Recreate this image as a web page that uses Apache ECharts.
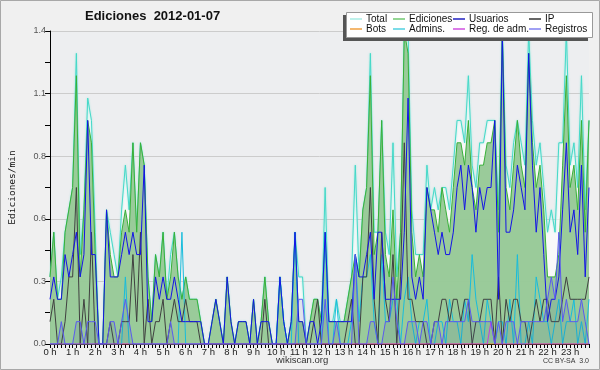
<!DOCTYPE html>
<html><head><meta charset="utf-8">
<script src="https://cdn.jsdelivr.net/npm/echarts@6/dist/echarts.min.js"></script>
<style>html,body{margin:0;padding:0;background:#f0f0f0}#c{width:600px;height:370px}</style>
</head><body><div id="c"></div>
<script>
const hourLabels = ["0 h","1 h","2 h","3 h","4 h","5 h","6 h","7 h","8 h","9 h","10 h","11 h","12 h","13 h","14 h","15 h","16 h","17 h","18 h","19 h","20 h","21 h","22 h","23 h"];
const ediciones = [
0.3,0.5,0.2,0.2,0.5,0.6, 0.7,1.2,0.3,0.6,1.0,0.9, 0.4,0,0,0.6,0.4,0.3, 0.3,0.5,0.6,0.5,0.9,0.5,
0.9,0.8,0.3,0.1,0.4,0.3, 0.5,0.2,0.3,0.5,0.3,0.2, 0.3,0.2,0.2,0.2,0.1,0, 0,0.1,0.2,0.1,0,0.3,
0.1,0,0.1,0.1,0.1,0, 0.2,0,0.1,0.3,0.1,0, 0,0.3,0.1,0,0.1,0.5, 0.1,0.1,0,0.1,0.2,0.2,
0.1,0.5,0.1,0.1,0.1,0.1, 0.1,0.2,0.3,0.4,0.3,0.6, 0.7,1.2,0.4,0.5,1.0,0.4, 0.3,0.6,0.2,0.5,1.4,1.3,
0.5,0.3,0.4,0.3,0.7,0.6, 0.6,0.5,0.7,0.6,0.5,0.7, 0.9,0.9,0.8,1.0,0.7,0.6, 0.8,0.8,0.9,0.9,1.0,0.5,
1.4,0.7,0.6,0.8,1.0,0.8, 0.7,1.3,0.9,0.7,0.8,0.6, 0.3,0.3,0.3,0.4,0.8,1.2, 0.7,0.8,0.6,1.0,0.5,1.0];
const usuarios = [
0.2,0.3,0.2,0.2,0.4,0.3, 0.4,0.5,0.3,0.4,1.0,0.4, 0.4,0,0,0.6,0.3,0.3, 0.3,0.4,0.5,0.4,0.5,0.4,
0.4,0.8,0.1,0.1,0.3,0.2, 0.3,0.2,0.2,0.3,0.2,0.1, 0.1,0.1,0.1,0.1,0.1,0, 0,0.1,0.2,0.1,0,0.3,
0.1,0,0.1,0.1,0.1,0, 0.2,0,0.1,0.1,0.1,0, 0,0.3,0.1,0,0.1,0.5, 0.1,0.1,0,0.1,0.1,0,
0.1,0.5,0.1,0.1,0.1,0.1, 0.1,0.1,0.1,0.4,0.3,0.3, 0.4,0.5,0.2,0.5,0.5,0.2, 0.2,0.2,0.2,0.2,0.5,1.1,
0.3,0.2,0.3,0.2,0.7,0.6, 0.5,0.4,0.5,0.4,0.4,0.5, 0.7,0.8,0.6,0.8,0.7,0.5, 0.7,0.6,0.7,0.7,1.0,0.2,
1.4,0.5,0.5,0.6,0.8,0.7, 0.6,1.3,0.8,0.5,0.7,0.4, 0.1,0.2,0.2,0.3,0.6,0.9, 0.5,0.6,0.4,0.8,0.3,0.7];
const ip = [
0.1,0.2,0,0,0.1,0.3, 0.3,0.7,0,0.2,0,0.5, 0,0,0,0,0.1,0, 0,0.1,0.1,0.1,0.4,0.1,
0.5,0,0.2,0,0.1,0.1, 0.2,0,0.1,0.2,0.1,0.1, 0.2,0.1,0.1,0.1,0,0, 0,0,0,0,0,0,
0,0,0,0,0,0, 0,0,0,0.2,0,0, 0,0,0,0,0,0, 0,0,0,0,0.1,0.2,
0,0,0,0,0,0, 0,0.1,0.2,0,0,0.3, 0.3,0.7,0.2,0,0.5,0.2, 0.1,0.4,0,0.3,0.9,0.2,
0.2,0.1,0.1,0.1,0,0, 0.1,0.1,0.2,0.2,0.1,0.2, 0.2,0.1,0.2,0.2,0,0.1, 0.1,0.2,0.2,0.2,0,0.3,
0,0.2,0.1,0.2,0.2,0.1, 0.1,0,0.1,0.2,0.1,0.2, 0.2,0.1,0.1,0.1,0.2,0.3, 0.2,0.2,0.2,0.2,0.2,0.3];
const registros = [
0,0,0,0.1,0,0, 0,0.1,0.1,0,0.1,0.1, 0.1,0,0,0,0.1,0.1, 0,0.1,0.2,0.1,0,0,
0,0,0,0,0,0, 0,0,0.1,0,0,0, 0,0,0,0,0,0, 0,0,0,0,0,0,
0,0,0,0,0,0, 0,0,0,0,0,0, 0,0,0,0,0,0, 0.2,0.2,0,0,0,0,
0,0.2,0,0,0.1,0, 0,0,0,0.4,0,0, 0,0.1,0.1,0,0,0.1, 0.1,0.3,0.1,0,0,0.1,
0.1,0.1,0,0.1,0.1,0, 0.1,0.1,0,0.1,0.1,0.1, 0.1,0.1,0.1,0.2,0.1,0.1, 0.1,0.1,0.1,0.1,0,0.1,
0,0.1,0.1,0.1,0,0.1, 0.1,0.1,0.1,0.1,0.1,0.1, 0.2,0.3,0.2,0.5,0.1,0.2, 0.1,0.1,0.1,0.2,0.1,0];
const total = [
0.3,0.5,0.2,0.3,0.5,0.6, 0.7,1.3,0.4,0.6,1.1,1.0, 0.5,0,0,0.6,0.5,0.4, 0.3,0.6,0.8,0.6,0.9,0.5,
0.9,0.8,0.3,0.1,0.4,0.3, 0.5,0.2,0.4,0.5,0.3,0.2, 0.3,0.2,0.2,0.2,0.1,0, 0,0.1,0.2,0.1,0,0.3,
0.1,0,0.1,0.1,0.1,0, 0.2,0,0.1,0.3,0.1,0, 0,0.3,0.1,0,0.1,0.5, 0.3,0.3,0,0.1,0.2,0.2,
0.1,0.7,0.1,0.1,0.2,0.1, 0.1,0.2,0.3,0.8,0.3,0.6, 0.7,1.3,0.5,0.5,1.0,0.5, 0.4,0.9,0.3,0.5,1.4,1.4,
0.6,0.4,0.4,0.4,0.8,0.6, 0.7,0.6,0.7,0.7,0.6,0.8, 1.0,1.0,0.9,1.2,0.8,0.7, 0.9,0.9,1.0,1.0,1.0,0.6,
1.4,0.8,0.7,0.9,1.0,0.9, 0.8,1.4,1.0,0.8,0.9,0.7, 0.5,0.6,0.5,0.9,0.9,1.4, 0.8,0.9,0.7,1.2,0.6,1.0];
const admins = [
0,0,0,0,0,0, 0,0,0,0,0,0, 0,0,0,0,0,0, 0,0,0.3,0,0,0,
0,0,0,0,0,0, 0,0,0,0,0,0.5, 0,0,0,0,0,0, 0,0,0,0,0,0,
0,0,0,0,0,0, 0,0,0,0,0,0, 0,0.3,0.1,0,0,0.5, 0,0,0,0,0,0,
0,0.5,0,0,0.2,0, 0,0,0.1,0.4,0.1,0.3, 0.3,0.4,0.1,0,0.4,0.1, 0.1,0.2,0.2,0,0.2,0.3,
0.1,0,0.1,0.1,0.2,0, 0,0.1,0.1,0,0.2,0.1, 0.1,0,0.2,0.1,0.4,0.2, 0.1,0,0.2,0.1,0,0.1,
0.1,0,0.2,0,0.4,0, 0,0.1,0,0.3,0.2,0.1, 0.1,0,0.1,0.2,0,0.1, 0.1,0.2,0,0.1,0,0.2];
const regAdm = [
0,0,0,0,0,0, 0,0,0,0,0,0, 0,0,0,0,0,0, 0,0,0,0,0,0,
0,0,0,0,0,0, 0,0,0,0,0,0, 0,0,0,0,0,0, 0,0,0,0,0,0,
0,0,0,0,0,0, 0,0,0,0,0,0, 0,0,0,0,0,0, 0,0,0,0,0,0,
0,0,0,0,0,0, 0,0,0,0,0,0, 0,0,0,0,0,0, 0,0,0,0,0,0,
0,0,0,0,0,0, 0,0,0,0,0,0, 0,0,0,0,0,0, 0,0,0,0.1,0,0,
0,0,0,0,0,0, 0,0,0,0,0,0, 0,0,0,0,0,0, 0,0,0,0,0,0];
const bots = [
0,0,0,0,0,0, 0,0,0,0,0,0, 0,0,0,0,0,0, 0,0,0,0,0,0,
0,0,0,0,0,0, 0,0,0,0,0,0, 0,0,0,0,0,0, 0,0,0,0,0,0,
0,0,0,0,0,0, 0,0,0,0,0,0, 0,0,0,0,0,0, 0,0,0,0,0,0,
0,0,0,0,0,0, 0,0,0,0,0,0, 0,0,0,0,0,0, 0,0,0,0,0,0,
0,0,0,0,0,0, 0,0,0,0,0,0, 0,0,0,0,0,0, 0,0,0,0,0,0,
0,0,0,0,0,0, 0,0,0,0,0,0, 0,0,0,0,0,0, 0,0,0,0,0,0];

const categories = [];
for (let h = 0; h < 24; h++) for (let m = 0; m < 60; m += 10) categories.push(h + ':' + (m < 10 ? '0' : '') + m);

const F = 'Liberation Sans';
const chart = echarts.init(document.getElementById('c'), null, {renderer: 'canvas'});
const legendPos = [
  ['Total', 350, 14], ['Ediciones', 393, 14], ['Usuarios', 453, 14], ['IP', 529, 14],
  ['Bots', 350, 24], ['Admins.', 393, 24], ['Reg. de adm.', 453, 24], ['Registros', 529, 24]
];
const legendColors = {'Total':'#a8ece4','Ediciones':'#70c870','Usuarios':'#2020c0','IP':'#333333','Bots':'#f0a040','Admins.':'#50d0e0','Reg. de adm.':'#d050e0','Registros':'#8080f0'};
function line(name, data, color, extra) {
  return Object.assign({
    name, type: 'line', data, showSymbol: false, symbol: 'none', animation: false,
    lineStyle: {color, width: 1}, itemStyle: {color: legendColors[name]}
  }, extra || {});
}
chart.setOption({
  animation: false,
  backgroundColor: '#f0f0f0',
  grid: {left: 46, right: 11, top: 31, bottom: 26, show: true, backgroundColor: '#edeef0', borderWidth: 0},
  graphic: [
    {type: 'rect', shape: {x: 0.5, y: 0.5, width: 599, height: 369}, style: {fill: 'none', stroke: '#a8a8a8', lineWidth: 1}, z: 100},
    {type: 'text', left: 85, top: 10, style: {text: 'Ediciones  2012-01-07', font: 'bold 13px "Liberation Sans"', fill: '#111'}},
    {type: 'rect', shape: {x: 343, y: 15, width: 245, height: 26}, style: {fill: '#555'}, z: 50},
    {type: 'rect', shape: {x: 346.5, y: 12.5, width: 246, height: 25}, style: {fill: '#ffffff', stroke: '#999', lineWidth: 1}, z: 51},
    {type: 'text', left: 276, top: 355, style: {text: 'wikiscan.org', font: '9.5px "Liberation Sans"', fill: '#333'}},
    {type: 'text', right: 11, top: 358, style: {text: 'CC BY-SA  3.0', font: '7px "Liberation Sans"', fill: '#333'}}
  ],
  legend: legendPos.map(([n, x, y]) => ({
    data: [n], left: x, top: y, icon: 'rect', itemWidth: 12, itemHeight: 1.5, itemGap: 0,
    selectedMode: false, padding: 0, z: 60,
    textStyle: {fontFamily: F, fontSize: 10, color: '#111', padding: [0, 0, 0, -1]}
  })),
  xAxis: {
    type: 'category', data: categories, boundaryGap: false,
    axisLine: {lineStyle: {color: '#000', width: 1}},
    axisTick: {show: true, interval: 0, length: 4, lineStyle: {color: '#000'}},
    axisLabel: {interval: i => i % 6 === 0, formatter: (v, i) => hourLabels[i / 6], fontFamily: F, fontSize: 9.5, color: '#222', margin: 3},
    splitLine: {show: false}
  },
  yAxis: {
    type: 'value', min: 0, max: 1.4, interval: 0.28,
    name: 'Ediciones/min', nameLocation: 'middle', nameGap: 32, nameRotate: 90,
    nameTextStyle: {fontFamily: 'DejaVu Sans Mono', fontSize: 9.5, color: '#111'},
    axisLine: {show: true, lineStyle: {color: '#000'}},
    axisTick: {show: true, length: 5, lineStyle: {color: '#000'}},
    minorTick: {show: true, splitNumber: 2, length: 5, lineStyle: {color: '#000'}},
    axisLabel: {formatter: v => v.toFixed(1), fontFamily: F, fontSize: 9, color: '#555', margin: 4},
    splitLine: {lineStyle: {color: '#cccccc', width: 1}}
  },
  series: [
    line('Total', total, '#46d8c8', {z: 2, lineStyle: {color: '#46d8c8', width: 1, shadowColor: 'rgba(120,230,215,0.8)', shadowBlur: 2}, areaStyle: {color: 'rgba(255,255,255,0.6)', opacity: 1}}),
    line('Ediciones', ediciones, '#38b038', {z: 3, areaStyle: {color: '#95c895', opacity: 0.95}}),
    line('Usuarios', usuarios, '#1414e6', {z: 6}),
    line('IP', ip, '#404040', {z: 5}),
    line('Bots', bots, '#ff9a30', {z: 4}),
    line('Admins.', admins, '#18bcdc', {z: 4}),
    line('Reg. de adm.', regAdm, '#c040e0', {z: 7}),
    line('Registros', registros, '#5a5af0', {z: 7, areaStyle: {color: 'rgba(60,80,150,0.12)', opacity: 1}})
  ]
});
</script></body></html>
